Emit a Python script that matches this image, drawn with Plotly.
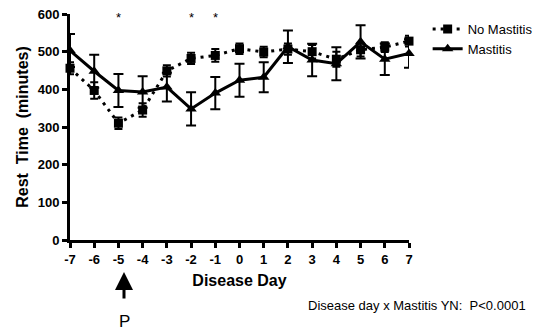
import plotly.graph_objects as go

days = [-7, -6, -5, -4, -3, -2, -1, 0, 1, 2, 3, 4, 5, 6, 7]
no_mastitis = [456, 397, 310, 345, 449, 482, 490, 508, 499, 507, 500, 480, 505, 512, 528]
no_mastitis_err = [16, 22, 15, 18, 15, 15, 17, 14, 14, 15, 18, 20, 18, 13, 14]
mastitis = [503, 448, 397, 393, 406, 348, 390, 424, 432, 513, 478, 468, 526, 480, 495]
mastitis_err = [44, 44, 44, 42, 38, 44, 43, 44, 40, 43, 43, 44, 44, 42, 38]
star_days = [-5, -2, -1]
y_ticks = [0, 100, 200, 300, 400, 500, 600]
x_ticks = days

FONT = "Liberation Sans, Arial, sans-serif"

fig = go.Figure()
fig.add_trace(go.Scatter(
    x=days, y=no_mastitis, name="No Mastitis", mode="lines+markers",
    line=dict(color="black", width=3, dash="3px,5px"),
    marker=dict(symbol="square", size=9, color="black"),
    error_y=dict(type="data", array=no_mastitis_err, color="black", thickness=2, width=4),
    cliponaxis=False,
))
fig.add_trace(go.Scatter(
    x=days, y=mastitis, name="Mastitis", mode="lines+markers",
    line=dict(color="black", width=3),
    marker=dict(symbol="triangle-up", size=10, color="black"),
    error_y=dict(type="data", array=mastitis_err, color="black", thickness=2, width=5),
    cliponaxis=False,
))

annotations = []
for d in star_days:
    annotations.append(dict(x=d, y=592, xref="x", yref="y", text="*", showarrow=False,
                            font=dict(family=FONT, size=13, color="black"), yanchor="middle"))
annotations.append(dict(x=-4.77, y=-0.142, xref="x", yref="paper", text="", showarrow=True,
                        ax=0, ay=28, arrowhead=2, arrowsize=1.2, arrowwidth=3, arrowcolor="black"))
annotations.append(dict(x=-4.77, y=-0.36, xref="x", yref="paper", text="P", showarrow=False,
                        font=dict(family=FONT, size=17, color="black"), yanchor="middle"))
annotations.append(dict(x=1.35, y=-0.29, xref="paper", yref="paper", xanchor="right", yanchor="middle",
                        text="Disease day x Mastitis YN:  P<0.0001", showarrow=False,
                        font=dict(family=FONT, size=13, color="black")))

fig.update_layout(
    width=532, height=322,
    margin=dict(l=62, r=131, t=6, b=90, autoexpand=False),
    plot_bgcolor="white", paper_bgcolor="white",
    showlegend=True,
    legend=dict(x=1.055, y=1.0, xanchor="left", yanchor="top",
                font=dict(family=FONT, size=13, color="black"),
                bgcolor="rgba(0,0,0,0)", tracegroupgap=0, itemwidth=30),
    annotations=annotations,
    xaxis=dict(range=[-7, 7], tickvals=x_ticks, ticktext=[str(v) for v in x_ticks],
               showline=True, linecolor="black", linewidth=3, ticks="outside", ticklen=5,
               tickwidth=3, tickcolor="black", showgrid=False, zeroline=False,
               ticklabeloverflow="allow",
               tickfont=dict(family=FONT, size=13, color="black", weight="bold"),
               title=dict(text="Disease Day", font=dict(family=FONT, size=16, color="black", weight="bold"),
                          standoff=10)),
    yaxis=dict(range=[0, 600], tickvals=y_ticks,
               showline=True, linecolor="black", linewidth=3, ticks="outside", ticklen=5,
               tickwidth=3, tickcolor="black", showgrid=False, zeroline=False,
               ticklabeloverflow="allow",
               tickfont=dict(family=FONT, size=13, color="black", weight="bold"),
               title=dict(text="Rest  Time  (minutes)", font=dict(family=FONT, size=16, color="black", weight="bold"),
                          standoff=6)),
)

fig.write_html("out.html")
